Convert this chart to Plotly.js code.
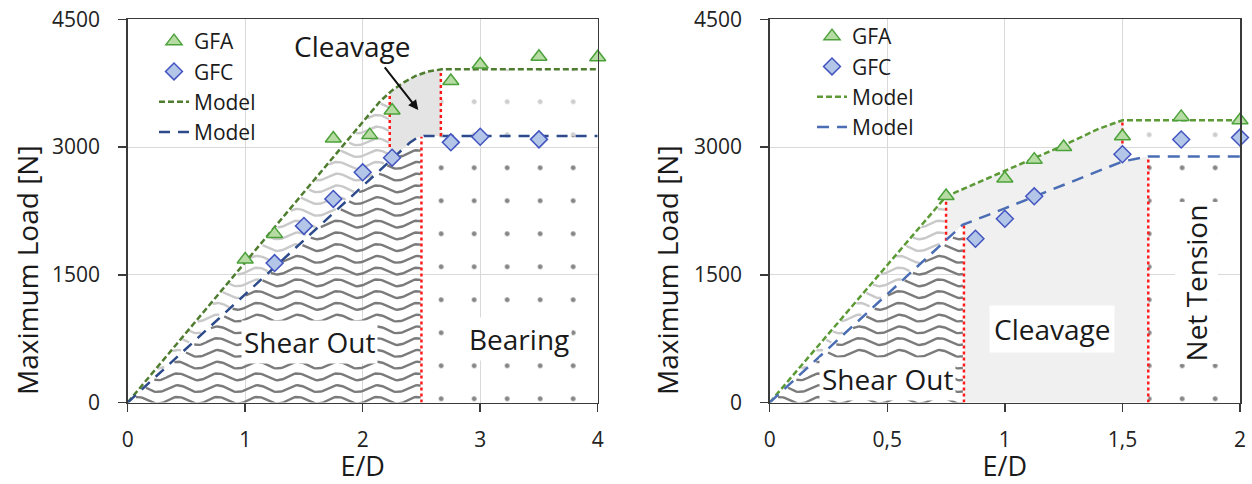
<!DOCTYPE html>
<html><head><meta charset="utf-8">
<script src="https://cdn.plot.ly/plotly-3.0.1.min.js"></script>
<style>html,body{margin:0;padding:0;background:#fff;}#chart{width:1252px;height:484px;}</style>
</head><body><div id="chart"></div>
<script>
// ---------- Left panel data ----------
const gfaLeftX = [1, 1.25, 1.75, 2.06, 2.25, 2.75, 3, 3.5, 4];
const gfaLeftY = [1680, 1980, 3100, 3140, 3430, 3775, 3970, 4060, 4055];
const gfcLeftX = [1.25, 1.5, 1.75, 2, 2.25, 2.75, 3, 3.5];
const gfcLeftY = [1637, 2074, 2391, 2703, 2875, 3055, 3121, 3090];
const modelGfaLeftX = [0, 2.15, 2.25, 2.35, 2.45, 2.55, 2.67, 4];
const modelGfaLeftY = [0, 3540, 3665, 3760, 3835, 3885, 3912, 3912];
const modelGfcLeftX = [0, 2.4, 2.46, 2.52, 4];
const modelGfcLeftY = [0, 3050, 3105, 3130, 3130];
const redLeftX = [2.23, 2.5, 2.665];
const redLeftLow = [3000, 0, 3130];
const redLeftHigh = [3645, 3120, 3910];

// ---------- Right panel data ----------
const gfaRightX = [0.75, 1, 1.125, 1.25, 1.5, 1.75, 2];
const gfaRightY = [2425, 2630, 2852, 3001, 3127, 3354, 3315];
const gfcRightX = [0.875, 1, 1.125, 1.5, 1.75, 2];
const gfcRightY = [1923, 2158, 2421, 2915, 3088, 3111];
const modelGfaRightX = [0, 0.75, 1.0, 1.25, 1.4, 1.5, 2];
const modelGfaRightY = [0, 2420, 2720, 3020, 3215, 3315, 3315];
const modelGfcRightX = [0, 0.82, 1.0, 1.25, 1.5, 1.61, 2];
const modelGfcRightY = [0, 2085, 2280, 2555, 2830, 2890, 2890];
const redRightX = [0.75, 0.826, 1.5, 1.61];
const redRightLow = [1900, 0, 2830, 0];
const redRightHigh = [2420, 2085, 3315, 2890];

// ---------- Tick labels ----------
const yTickVals = [0, 1500, 3000, 4500];
const yTickText = ['0', '1500', '3000', '4500'];
const xLeftTickVals = [0, 1, 2, 3, 4];
const xLeftTickText = ['0', '1', '2', '3', '4'];
const xRightTickVals = [0, 0.5, 1, 1.5, 2];
const xRightTickText = ['0', '0,5', '1', '1,5', '2'];

// ---------- helpers ----------
function interp(xs, ys, x) {
  if (x <= xs[0]) return ys[0];
  for (let i = 1; i < xs.length; i++) {
    if (x <= xs[i]) { const t = (x - xs[i-1]) / (xs[i] - xs[i-1]); return ys[i-1] + t * (ys[i] - ys[i-1]); }
  }
  return ys[ys.length - 1];
}
function along(xs, ys, a, b) {
  const lo = Math.min(a, b), hi = Math.max(a, b);
  const px = [lo], py = [interp(xs, ys, lo)];
  xs.forEach((x, i) => { if (x > lo && x < hi) { px.push(x); py.push(ys[i]); } });
  px.push(hi); py.push(interp(xs, ys, hi));
  if (a > b) { px.reverse(); py.reverse(); }
  return { x: px, y: py };
}
function poly(parts) {
  const x = [], y = [];
  parts.forEach(p => { x.push(...p.x); y.push(...p.y); });
  x.push(x[0]); y.push(y[0]);
  return { x, y };
}
function pt(x, y) { return { x: [x], y: [y] }; }
function region(p, xa, ya, fill, pattern) {
  const t = { type: 'scatter', mode: 'lines', x: p.x, y: p.y, xaxis: xa, yaxis: ya, fill: 'toself',
    line: { width: 0, color: 'rgba(0,0,0,0)' }, hoverinfo: 'skip', showlegend: false, fillcolor: fill };
  if (pattern) t.fillpattern = pattern;
  return t;
}
// dotted texture
function dotRegion(p, xa, ya, color) {
  return region(p, xa, ya, 'rgba(0,0,0,0)', { shape: '.', size: 33, solidity: 0.018, fgcolor: color, bgcolor: 'rgba(0,0,0,0)', fillmode: 'replace' });
}
// wavy hatch texture (decoration), clipped between two model curves
function waves(xa, ya, xMax, lowerFn, upperFn, period, color) {
  const step = 138, amp = 40, gap = 20;
  const xs = [], ys = [];
  const dx = period / 24;
  for (let y0 = 25; y0 < 4600; y0 += step) {
    let open = false;
    for (let x = 0; x <= xMax + 1e-9; x += dx) {
      const y = y0 + amp * Math.sin(2 * Math.PI * x / period);
      if (y >= lowerFn(x) + gap && y <= upperFn(x) - gap) { xs.push(x); ys.push(y); open = true; }
      else if (open) { xs.push(null); ys.push(null); open = false; }
    }
    if (open) { xs.push(null); ys.push(null); }
  }
  return { type: 'scatter', mode: 'lines', x: xs, y: ys, xaxis: xa, yaxis: ya, connectgaps: false,
    line: { color: color, width: 2.4 }, hoverinfo: 'skip', showlegend: false };
}
function redLines(xs, lo, hi, xa, ya) {
  const x = [], y = [];
  xs.forEach((v, i) => { x.push(v, v, null); y.push(lo[i], hi[i], null); });
  return { type: 'scatter', mode: 'lines', x, y, xaxis: xa, yaxis: ya, connectgaps: false,
    line: { color: '#ff1a1a', width: 2.5, dash: 'dot' }, hoverinfo: 'skip', showlegend: false };
}

const gL = x => interp(modelGfaLeftX, modelGfaLeftY, x);
const bL = x => interp(modelGfcLeftX, modelGfcLeftY, x);
const gR = x => interp(modelGfaRightX, modelGfaRightY, x);
const bR = x => interp(modelGfcRightX, modelGfcRightY, x);

const traces = [];
// ---- Left regions ----
traces.push(region(poly([along(modelGfaLeftX, modelGfaLeftY, redLeftX[0], redLeftX[2]),
  along(modelGfcLeftX, modelGfcLeftY, redLeftX[2], redLeftX[0])]), 'x', 'y', '#e4e4e4'));
traces.push(dotRegion(poly([pt(redLeftX[1], 0), along(modelGfcLeftX, modelGfcLeftY, redLeftX[1], 4), pt(4, 0)]),
  'x', 'y', '#858585'));
traces.push(dotRegion(poly([along(modelGfaLeftX, modelGfaLeftY, redLeftX[2], 4),
  along(modelGfcLeftX, modelGfcLeftY, 4, redLeftX[2])]), 'x', 'y', '#cdcdcd'));
traces.push(waves('x', 'y', redLeftX[0], bL, gL, 0.34, '#c9c9c9'));
traces.push(waves('x', 'y', redLeftX[1], x => -1e9, bL, 0.34, '#7b7b7b'));
traces.push(redLines(redLeftX, redLeftLow, redLeftHigh, 'x', 'y'));
// ---- Right regions ----
traces.push(region(poly([along(modelGfaRightX, modelGfaRightY, redRightX[0], redRightX[2]),
  along(modelGfcRightX, modelGfcRightY, redRightX[2], redRightX[3]), pt(redRightX[3], 0), pt(redRightX[1], 0),
  along(modelGfcRightX, modelGfcRightY, redRightX[1], redRightX[0])]), 'x2', 'y2', '#f0f0f0'));
traces.push(dotRegion(poly([pt(redRightX[3], 0), along(modelGfcRightX, modelGfcRightY, redRightX[3], 2), pt(2, 0)]),
  'x2', 'y2', '#858585'));
traces.push(dotRegion(poly([along(modelGfaRightX, modelGfaRightY, redRightX[2], 2),
  along(modelGfcRightX, modelGfcRightY, 2, redRightX[2])]), 'x2', 'y2', '#cdcdcd'));
traces.push(waves('x2', 'y2', redRightX[0], bR, gR, 0.17, '#c9c9c9'));
traces.push(waves('x2', 'y2', redRightX[1], x => -1e9, bR, 0.17, '#7b7b7b'));
traces.push(redLines(redRightX, redRightLow, redRightHigh, 'x2', 'y2'));

// ---- model lines and markers ----
const triFill = '#b6dba3', triLine = '#4ca23a', diaFill = '#b4c6e8', diaLine = '#4254c0';
function modelLine(x, y, xa, ya, color, dash, leg, rank) {
  return { type: 'scatter', mode: 'lines', name: 'Model', x, y, xaxis: xa, yaxis: ya, legend: leg, legendrank: rank,
    line: { color, width: 2.5, dash }, hoverinfo: 'skip' };
}
function markers(x, y, xa, ya, name, sym, size, fill, lc, leg, rank) {
  return { type: 'scatter', mode: 'markers', name, x, y, xaxis: xa, yaxis: ya, legend: leg, legendrank: rank, cliponaxis: false,
    marker: { symbol: sym, size, color: fill, line: { color: lc, width: 1.5 } } };
}
traces.push(modelLine(modelGfaLeftX, modelGfaLeftY, 'x', 'y', '#4e7d30', '6px,3px', 'legend', 3));
traces.push(modelLine(modelGfcLeftX, modelGfcLeftY, 'x', 'y', '#2d4a8a', '11px,8px', 'legend', 4));
traces.push(modelLine(modelGfaRightX, modelGfaRightY, 'x2', 'y2', '#5c9a36', '6px,3px', 'legend2', 3));
traces.push(modelLine(modelGfcRightX, modelGfcRightY, 'x2', 'y2', '#4a6db4', '12px,8px', 'legend2', 4));
traces.push(markers(gfaLeftX, gfaLeftY, 'x', 'y', 'GFA', 'triangle-up', 14, triFill, triLine, 'legend', 1));
traces.push(markers(gfcLeftX, gfcLeftY, 'x', 'y', 'GFC', 'diamond', 13, diaFill, diaLine, 'legend', 2));
traces.push(markers(gfaRightX, gfaRightY, 'x2', 'y2', 'GFA', 'triangle-up', 14, triFill, triLine, 'legend2', 1));
traces.push(markers(gfcRightX, gfcRightY, 'x2', 'y2', 'GFC', 'diamond', 13, diaFill, diaLine, 'legend2', 2));

const F = 'Open Sans, sans-serif';
const axCommon = { showline: true, linecolor: '#3a3a3a', linewidth: 1.5, mirror: true, ticks: 'outside', ticklen: 8,
  tickwidth: 1.5, tickcolor: '#3a3a3a', showgrid: true, gridcolor: '#d9d9d9', gridwidth: 1, zeroline: false,
  tickfont: { family: F, size: 21, color: '#222' }, tickmode: 'array', fixedrange: true };
const W = 1252, H = 484;
const titleFont = { family: F, size: 28, color: '#1a1a1a' };
const xTitleFont = { family: F, size: 27, color: '#1a1a1a' };
const layout = {
  width: W, height: H, margin: { l: 0, r: 0, t: 0, b: 0 }, paper_bgcolor: '#fff', plot_bgcolor: '#fff',
  font: { family: F, color: '#1a1a1a' }, showlegend: true, hovermode: false,
  xaxis: Object.assign({}, axCommon, { domain: [127.7 / W, 597.7 / W], range: [0, 4], tickvals: xLeftTickVals, ticktext: xLeftTickText,
    anchor: 'y', ticklabelstandoff: 10, title: { text: 'E/D', font: xTitleFont, standoff: 10 } }),
  yaxis: Object.assign({}, axCommon, { domain: [1 - 402.5 / H, 1 - 19.3 / H], range: [0, 4500], tickvals: yTickVals, ticktext: yTickText,
    anchor: 'x', ticklabelstandoff: 14 }),
  xaxis2: Object.assign({}, axCommon, { domain: [769.7 / W, 1240 / W], range: [0, 2], tickvals: xRightTickVals, ticktext: xRightTickText,
    anchor: 'y2', ticklabelstandoff: 10, title: { text: 'E/D', font: xTitleFont, standoff: 10 } }),
  yaxis2: Object.assign({}, axCommon, { domain: [1 - 402.5 / H, 1 - 19.3 / H], range: [0, 4500], tickvals: yTickVals, ticktext: yTickText,
    anchor: 'x2', ticklabelstandoff: 14 }),
  legend: { x: 154 / W, y: 1 - 21 / H, xanchor: 'left', yanchor: 'top', bgcolor: 'rgba(0,0,0,0)', borderwidth: 0,
    font: { family: F, size: 21, color: '#1a1a1a' }, tracegroupgap: 0, traceorder: 'normal' },
  legend2: { x: 812 / W, y: 1 - 16 / H, xanchor: 'left', yanchor: 'top', bgcolor: 'rgba(0,0,0,0)', borderwidth: 0,
    font: { family: F, size: 21, color: '#1a1a1a' }, tracegroupgap: 0, traceorder: 'normal' },
  annotations: [
    { xref: 'paper', yref: 'paper', x: 27 / W, y: 1 - 270 / H, xanchor: 'center', yanchor: 'middle', text: 'Maximum Load [N]',
      textangle: -90, showarrow: false, font: titleFont },
    { xref: 'paper', yref: 'paper', x: 667 / W, y: 1 - 270 / H, xanchor: 'center', yanchor: 'middle', text: 'Maximum Load [N]',
      textangle: -90, showarrow: false, font: titleFont },
    { xref: 'x', yref: 'y', x: 1.913, y: 4190, text: 'Cleavage', showarrow: false, font: titleFont },
    { xref: 'x', yref: 'y', x: 2.473, y: 3434, axref: 'x', ayref: 'y', ax: 2.162, ay: 3981, text: ' ', showarrow: true,
      arrowhead: 2, arrowsize: 1, arrowwidth: 2, arrowcolor: '#111', standoff: 0, startstandoff: 0 },
    { xref: 'x', yref: 'y', x: 1.543, y: 710, text: 'Shear Out', showarrow: false, bgcolor: '#fff', borderpad: 2, font: titleFont },
    { xref: 'x', yref: 'y', x: 3.33, y: 750, text: 'Bearing', showarrow: false, bgcolor: '#fff', borderpad: 2, font: titleFont },
    { xref: 'x2', yref: 'y2', x: 1.199, y: 860, text: 'Cleavage', showarrow: false, bgcolor: '#fff', borderpad: 4, font: titleFont },
    { xref: 'x2', yref: 'y2', x: 0.499, y: 280, text: 'Shear Out', showarrow: false, bgcolor: '#fff', borderpad: 2, font: titleFont },
    { xref: 'x2', yref: 'y2', x: 1.8125, y: 1409, text: 'Net Tension', textangle: -90, showarrow: false, bgcolor: '#fff', borderpad: 2,
      font: titleFont }
  ]
};
Plotly.newPlot('chart', traces, layout, { displayModeBar: false, staticPlot: true });
</script></body></html>
